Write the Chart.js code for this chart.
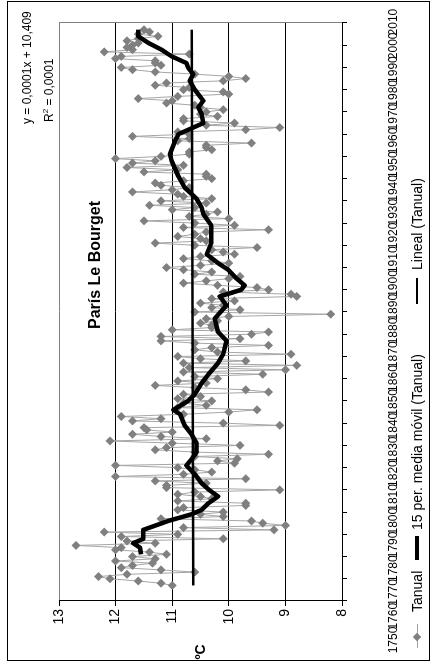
<!DOCTYPE html>
<html><head><meta charset="utf-8">
<script src="https://cdn.jsdelivr.net/npm/chart.js@4.4.1/dist/chart.umd.min.js"></script>
<style>
html,body{margin:0;padding:0;background:#fff;overflow:hidden;width:433px;height:664px}
#wrap{position:absolute;left:0;top:0;width:664px;height:433px;transform-origin:0 0;transform:translate(0,664px) rotate(-90deg);font-family:"Liberation Sans",Arial,sans-serif;color:#000;background:#fff}
#frame{position:absolute;left:3px;top:7px;width:660px;height:423px;border:1px solid #000;box-sizing:border-box}
canvas{position:absolute;left:0;top:0}
.t{position:absolute;white-space:nowrap;line-height:1}
.ln{position:absolute}
</style></head><body>
<div id="wrap">
<div id="frame"></div>
<canvas id="c" width="664" height="433"></canvas>
<div class="t" id="title" style="left:399px;top:95px;transform:translate(-50%,-50%);font-size:16px;font-weight:bold">París Le Bourget</div>
<div class="t" style="left:540px;top:21px;font-size:12px">y = 0,0001x + 10,409</div>
<div class="t" style="left:542px;top:42px;font-size:12px">R<sup style="font-size:8px;vertical-align:5px">2</sup> = 0,0001</div>
<div class="t" style="left:12px;top:200px;transform:translate(-50%,-50%);font-size:14px;font-weight:bold">ºC</div>
<!-- legend -->
<div class="ln" style="left:16px;top:417px;width:24px;height:1px;background:#a0a0a0"></div>
<div class="ln" style="left:24px;top:414px;width:6px;height:6px;background:#808080;transform:rotate(45deg)"></div>
<div class="t" style="left:52px;top:410px;font-size:14px">Tanual</div>
<div class="ln" style="left:104px;top:415px;width:24px;height:4px;background:#000"></div>
<div class="t" style="left:134px;top:410px;font-size:14px">15 per. media móvil (Tanual)</div>
<div class="ln" style="left:360px;top:416px;width:26px;height:2px;background:#000"></div>
<div class="t" style="left:394px;top:410px;font-size:14px">Lineal (Tanual)</div>
</div>
<script>
// Annual mean temperature (ºC), Paris Le Bourget, 1757-2007
const firstYear = 1757;
const tanual = [
  11.0, 11.2, 11.6,
  12.1, 12.3, 11.8, 10.6, 11.2, 11.9, 11.7, 11.35, 12.0, 11.3,
  11.7, 11.1, 11.4, 12.0, 11.9, 12.7, 11.3, 11.8, 10.1, 11.9,
  10.9, 12.2, 9.2, 10.8, 9.0, 9.4, 9.6, 11.2, 10.1, 10.5,
  10.1, 10.9, 10.8, 9.7, 9.7, 10.9, 10.3, 10.5, 10.9, 10.6,
  9.1, 11.1, 11.1, 10.4, 11.3, 9.7, 12.0, 10.8, 10.3, 10.6,
  10.9, 12.0, 9.9, 10.2, 9.85, 10.6, 9.3, 10.6, 11.3, 11.1,
  9.8, 11.0, 12.1, 10.4, 11.2, 11.7, 11.0, 11.45, 11.5, 9.1,
  10.1, 11.7, 11.2, 11.9, 10.8, 10.0, 9.5, 10.9, 10.4, 10.8,
  10.3, 10.9, 10.5, 10.8, 9.3, 9.7, 10.6, 11.3, 10.4, 10.9,
  10.2, 10.6, 9.4, 10.8, 9.0, 10.7, 8.8, 10.8, 9.7, 10.5,
  10.9, 8.9, 10.2, 10.6, 10.3, 9.3, 10.6, 11.2, 9.8, 11.2,
  9.6, 9.3, 11.0, 10.3, 10.3, 10.5, 10.2, 10.4, 10.0, 8.2,
  10.6, 9.8, 10.3, 10.1, 10.5, 9.9, 10.3, 8.8, 8.9, 10.1,
  9.3, 9.5, 10.2, 10.8, 10.4, 10.0, 9.8, 10.6, 10.3, 10.8,
  11.1, 10.5, 10.0, 10.3, 10.8, 10.5, 9.9, 10.1, 10.3, 9.5,
  10.6, 11.3, 10.4, 10.5, 10.9, 10.6, 10.4, 9.3, 10.8, 9.9,
  10.6, 11.5, 10.0, 10.7, 10.4, 10.2, 11.0, 10.6, 11.4, 10.4,
  11.2, 10.3, 10.8, 10.9, 11.7, 11.0, 10.7, 11.2, 11.3, 10.8,
  10.3, 10.4, 10.4, 11.5, 10.9, 11.8, 10.8, 11.7, 11.3, 12.0,
  11.2, 10.7, 10.7, 10.3, 10.4, 10.4, 9.6, 10.9, 10.7, 11.7,
  10.7, 10.9, 9.7, 9.1, 10.4, 9.9, 10.8, 10.8, 10.2, 10.5,
  10.4, 10.1, 10.5, 10.6, 11.1, 11.0, 11.6, 10.9, 10.0, 10.1,
  10.8, 10.7, 11.3, 11.1, 10.1, 9.7, 10.0, 10.6, 11.3, 11.7,
  11.9, 11.2, 11.3, 11.3, 12.0, 11.9, 10.7, 12.2, 11.7, 11.8,
  11.7, 11.6, 11.8, 11.6, 11.25, 11.6, 11.4, 11.5
];
const years = tanual.map((_, i) => firstYear + i);

// 15-year moving average
const maYears = [1771,1774,1776,1778,1782,1786,1789,1791,1794,1797,1800,1803,1807,1811,1814,1817,1821,1825,1829,1834,1836,1840,1843,1848,1852,1857,1861,1867,1871,1877,1883,1887,1890,1892,1895,1899,1902,1906,1911,1915,1919,1924,1927,1931,1936,1941,1948,1951,1957,1960,1965,1969,1972,1975,1980,1984,1987,1990,1992,1995,1998,2001,2004,2007];
const maValues = [11.55,11.57,11.69,11.51,11.51,11.07,10.66,10.48,10.36,10.19,10.35,10.48,10.6,10.75,10.65,10.57,10.57,10.66,10.78,10.86,10.98,10.72,10.6,10.48,10.36,10.19,10.1,10.04,10.19,10.25,10.04,10.16,9.78,9.72,9.86,10.01,10.19,10.39,10.31,10.31,10.31,10.45,10.48,10.57,10.78,10.89,11.01,11.04,10.95,10.89,10.45,10.48,10.54,10.45,10.6,10.69,10.63,10.72,10.75,11.01,11.19,11.42,11.6,11.6];

// Linear trend endpoints
const trendYears = [1757, 2007];
const trendValues = [10.63, 10.655];

// Axis ticks
const yearTicks = [1750,1760,1770,1780,1790,1800,1810,1820,1830,1840,1850,1860,1870,1880,1890,1900,1910,1920,1930,1940,1950,1960,1970,1980,1990,2000,2010];
const tempMin = 8, tempMax = 13;

const yearLabels = {
  id: 'yearLabels',
  afterDraw(chart) {
    const s = chart.scales.xl, ctx = chart.ctx;
    ctx.save();
    ctx.font = '12px "Liberation Sans", Arial, sans-serif';
    ctx.fillStyle = '#000';
    ctx.textAlign = 'center';
    ctx.textBaseline = 'middle';
    yearTicks.forEach(y => ctx.fillText(String(y), s.getPixelForValue(y), 394));
    ctx.restore();
  }
};

new Chart(document.getElementById('c'), {
  type: 'line',
  data: {
    datasets: [
      { label: 'Lineal (Tanual)', data: trendYears.map((x, i) => ({x, y: trendValues[i]})),
        borderColor: '#000', borderWidth: 2.5, pointRadius: 0, order: 0 },
      { label: '15 per. media móvil (Tanual)', data: maYears.map((x, i) => ({x, y: maValues[i]})),
        borderColor: '#000', borderWidth: 4.5, pointRadius: 0, order: 1, borderJoinStyle: 'round' },
      { label: 'Tanual', data: years.map((x, i) => ({x, y: tanual[i]})),
        borderColor: '#a6a6a6', borderWidth: 1, pointStyle: 'rectRot', pointRadius: 4.5,
        pointBackgroundColor: '#808080', pointBorderColor: '#808080', pointBorderWidth: 0, order: 2 }
    ]
  },
  options: {
    responsive: false, animation: false,
    layout: { padding: { left: 0, right: 23, top: 59, bottom: 0 } },
    plugins: { legend: { display: false }, tooltip: { enabled: false }, title: { display: false } },
    scales: {
      x: {
        type: 'linear', min: 1750, max: 2010,
        afterBuildTicks: s => { s.ticks = yearTicks.map(v => ({value: v})); },
        afterFit: s => { s.height = 91; },
        ticks: { display: false },
        grid: { drawOnChartArea: true, tickLength: 5, tickColor: '#000',
                color: c => (c.tick && c.tick.value === 2010) ? '#808080' : 'rgba(0,0,0,0)' },
        border: { display: true, color: '#000', width: 1 }
      },
      xl: { type: 'linear', axis: 'x', position: 'bottom', display: false, min: 1766.4, max: 2009.6 },
      y: {
        min: tempMin, max: tempMax,
        afterFit: s => { s.width = 63; },
        ticks: { stepSize: 1, color: '#000', padding: 3, font: { size: 14, family: '"Liberation Sans", Arial, sans-serif' } },
        grid: { tickLength: 5, tickColor: '#000',
                color: c => (c.tick && c.tick.value === tempMax) ? '#808080' : '#000' },
        border: { display: true, color: '#000', width: 1 }
      }
    }
  },
  plugins: [yearLabels]
});
</script>
</body></html>
